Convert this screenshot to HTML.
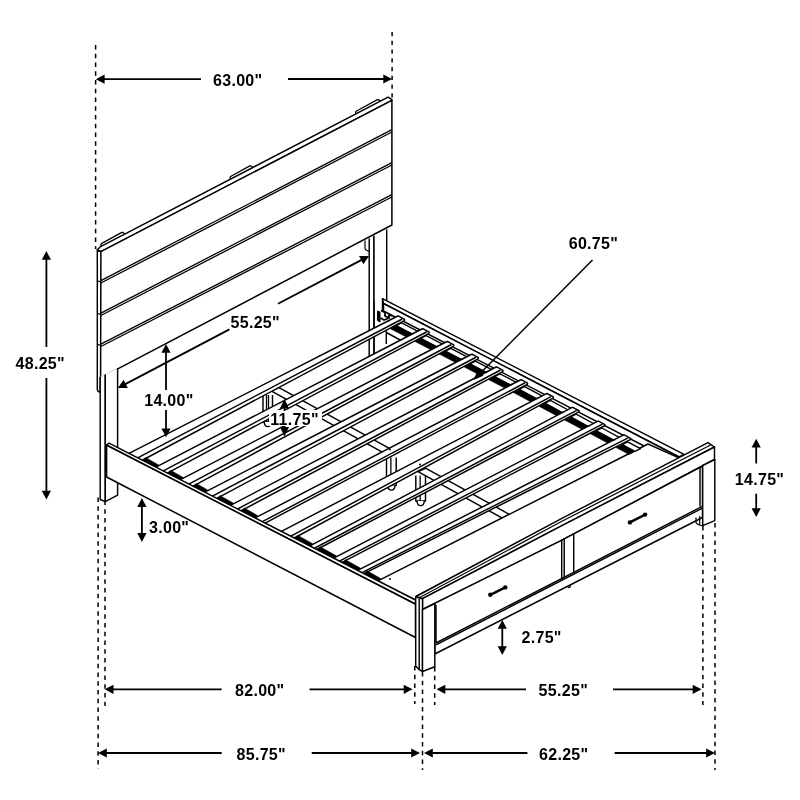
<!DOCTYPE html>
<html><head><meta charset="utf-8"><title>Bed dimensions</title>
<style>
html,body{margin:0;padding:0;background:#fff;}
body{width:800px;height:800px;overflow:hidden;font-family:"Liberation Sans",sans-serif;}
svg{display:block;font-family:"Liberation Sans",sans-serif;filter:grayscale(1);}
</style></head><body>
<svg width="800" height="800" viewBox="0 0 800 800">
<rect width="800" height="800" fill="#fff"/>
<g stroke="#000" fill="none" stroke-linejoin="round" stroke-linecap="butt">
<path d="M369.20 238.50 L369.20 358.00 L374.00 358.00 L374.00 235.80" stroke-width="1.45" fill="#fff" />
<path d="M374 235.8 L386.7 229.4 L386.7 300.5 L374 300.5 Z" fill="#fff" stroke="none"/>
<line x1="374.00" y1="235.80" x2="374.00" y2="358.00" stroke-width="1.45" />
<line x1="386.70" y1="229.40" x2="386.70" y2="300.50" stroke-width="1.45" />
<path d="M365 240.6 L365 248.5 Q365.3 250.3 369.2 251.5" stroke-width="1.2"/>
<path d="M382.50 298.70 L684.00 454.30 L679.00 457.00 L383.50 303.50 Z" stroke-width="1.45" fill="#fff" />
<path d="M383.50 303.50 L679.00 457.00 L672.00 460.50 L383.50 311.00 Z" stroke-width="1.45" fill="#fff" />
<line x1="382.50" y1="298.70" x2="382.50" y2="312.00" stroke-width="1.45" />
<line x1="386.30" y1="322.00" x2="386.30" y2="344.00" stroke-width="1.45" />
<line x1="386.30" y1="332.50" x2="402.00" y2="341.00" stroke-width="1.45" />
<path d="M377.50 311.00 L377.50 320.50 L380.00 322.00 L380.00 312.00 Z" stroke-width="1.0" fill="#000" />
<path d="M381.00 310.50 L385.00 312.50 L385.00 316.00 L389.00 318.00 L389.00 314.50 L392.00 316.00" stroke-width="1.8" fill="none" />
<path d="M380.50 318.00 L384.00 320.00 L388.00 318.50" stroke-width="1.8" fill="none" />
<path d="M263.00 395.00 L263.00 422.00 L272.50 422.00 L272.50 395.00" stroke-width="1.45" fill="#fff" />
<line x1="266.51" y1="395.00" x2="266.51" y2="422.00" stroke-width="1.305" />
<line x1="268.51" y1="395.00" x2="268.51" y2="422.00" stroke-width="1.305" />
<path d="M264.2 422 q0.3 4.6 3.55 4.6 q3.25 0 3.55 -4.6" stroke-width="1.45" fill="#fff"/>
<path d="M386.50 457.50 L386.50 485.50 L396.20 485.50 L396.20 457.50" stroke-width="1.45" fill="#fff" />
<line x1="390.87" y1="457.50" x2="390.87" y2="485.50" stroke-width="1.305" />
<path d="M387.7 485.5 q0.3 4.6 3.6499999999999995 4.6 q3.3499999999999996 0 3.6499999999999995 -4.6" stroke-width="1.45" fill="#fff"/>
<path d="M415.80 475.50 L415.80 501.00 L425.50 501.00 L425.50 475.50" stroke-width="1.45" fill="#fff" />
<line x1="420.17" y1="475.50" x2="420.17" y2="501.00" stroke-width="1.305" />
<path d="M417.0 501.0 q0.3 4.6 3.6499999999999995 4.6 q3.3499999999999996 0 3.6499999999999995 -4.6" stroke-width="1.45" fill="#fff"/>
<path d="M566.00 573.00 L566.00 583.00 L572.00 583.00 L572.00 573.00" stroke-width="1.45" fill="#fff" />
<line x1="568.70" y1="573.00" x2="568.70" y2="583.00" stroke-width="1.305" />
<path d="M567.2 583 q0.3 4.6 1.8 4.6 q1.5 0 1.8 -4.6" stroke-width="1.45" fill="#fff"/>
<path d="M279.00 387.65 L397.50 452.82 L390.00 456.30 L271.50 391.12 Z" stroke-width="1.45" fill="#fff" />
<path d="M425.50 468.23 L555.50 539.73 L548.00 543.20 L418.00 471.70 Z" stroke-width="1.45" fill="#fff" />
<circle cx="268" cy="384" r="1.1" fill="#000" stroke="none"/>
<path d="M376.50 581.58 L648.00 444.00 L680.00 458.30 L416.00 596.50 L415.50 600.00 Z" stroke-width="1.45" fill="#fff" />
<path d="M396.10 325.60 L416.27 336.06 L421.77 333.31 L401.60 322.85 Z" stroke-width="1.305" fill="#fff" />
<path d="M390.10 328.60 L396.10 325.60 L416.27 336.06 L410.27 339.06 Z" stroke-width="0.6" fill="#000" />
<path d="M127.60 454.15 L397.25 316.25 L398.25 315.95 L404.60 319.40 L404.30 320.60 L140.00 461.49 Z" stroke-width="1.45" fill="#fff" />
<line x1="135.75" y1="458.82" x2="402.20" y2="319.00" stroke-width="1.45" />
<line x1="388.25" y1="320.05" x2="388.85" y2="321.45" stroke-width="1.16" />
<path d="M145.60 457.49 L158.70 464.91 L156.30 468.61 L141.80 461.19 Z" stroke-width="0.5" fill="#000" />
<path d="M420.70 338.35 L440.87 348.81 L446.37 346.06 L426.20 335.60 Z" stroke-width="1.305" fill="#fff" />
<path d="M414.70 341.35 L420.70 338.35 L440.87 348.81 L434.87 351.81 Z" stroke-width="0.6" fill="#000" />
<path d="M154.50 467.91 L421.85 329.00 L422.85 328.70 L429.20 332.15 L428.90 333.35 L165.00 474.28 Z" stroke-width="1.45" fill="#fff" />
<line x1="161.40" y1="471.94" x2="426.80" y2="331.75" stroke-width="1.45" />
<line x1="412.85" y1="332.80" x2="413.45" y2="334.20" stroke-width="1.16" />
<path d="M170.60 470.28 L183.20 477.45 L180.80 481.15 L166.80 473.98 Z" stroke-width="0.5" fill="#000" />
<path d="M445.30 351.10 L465.47 361.56 L470.97 358.81 L450.80 348.35 Z" stroke-width="1.305" fill="#fff" />
<path d="M439.30 354.10 L445.30 351.10 L465.47 361.56 L459.47 364.56 Z" stroke-width="0.6" fill="#000" />
<path d="M179.00 480.45 L446.45 341.75 L447.45 341.45 L453.80 344.90 L453.50 346.10 L190.75 487.46 Z" stroke-width="1.45" fill="#fff" />
<line x1="187.00" y1="485.04" x2="451.40" y2="344.50" stroke-width="1.45" />
<line x1="437.45" y1="345.55" x2="438.05" y2="346.95" stroke-width="1.16" />
<path d="M196.35 483.46 L207.70 489.98 L205.30 493.68 L192.55 487.16 Z" stroke-width="0.5" fill="#000" />
<path d="M469.90 363.85 L490.07 374.31 L495.57 371.56 L475.40 361.10 Z" stroke-width="1.305" fill="#fff" />
<path d="M463.90 366.85 L469.90 363.85 L490.07 374.31 L484.07 377.31 Z" stroke-width="0.6" fill="#000" />
<path d="M203.50 492.98 L471.05 354.50 L472.05 354.20 L478.40 357.65 L478.10 358.85 L214.50 499.61 Z" stroke-width="1.45" fill="#fff" />
<line x1="210.50" y1="497.06" x2="476.00" y2="357.25" stroke-width="1.45" />
<line x1="462.05" y1="358.30" x2="462.65" y2="359.70" stroke-width="1.16" />
<path d="M220.10 495.61 L233.20 503.02 L230.80 506.72 L216.30 499.31 Z" stroke-width="0.5" fill="#000" />
<path d="M494.50 376.60 L514.67 387.06 L520.17 384.31 L500.00 373.85 Z" stroke-width="1.305" fill="#fff" />
<path d="M488.50 379.60 L494.50 376.60 L514.67 387.06 L508.67 390.06 Z" stroke-width="0.6" fill="#000" />
<path d="M229.00 506.02 L495.65 367.25 L496.65 366.95 L503.00 370.40 L502.70 371.60 L238.75 512.01 Z" stroke-width="1.45" fill="#fff" />
<line x1="235.75" y1="509.98" x2="500.60" y2="370.00" stroke-width="1.45" />
<line x1="486.65" y1="371.05" x2="487.25" y2="372.45" stroke-width="1.16" />
<path d="M244.35 508.01 L257.95 515.69 L255.55 519.39 L240.55 511.71 Z" stroke-width="0.5" fill="#000" />
<path d="M519.10 389.35 L540.22 400.67 L545.72 397.92 L524.60 386.60 Z" stroke-width="1.305" fill="#fff" />
<path d="M513.10 392.35 L519.10 389.35 L540.22 400.67 L534.22 403.67 Z" stroke-width="0.6" fill="#000" />
<path d="M253.75 518.69 L520.25 380.00 L521.25 379.70 L527.60 383.15 L527.30 384.35 L262.75 524.29 Z" stroke-width="1.45" fill="#fff" />
<line x1="260.50" y1="522.64" x2="525.20" y2="382.75" stroke-width="1.45" />
<line x1="511.25" y1="383.80" x2="511.85" y2="385.20" stroke-width="1.16" />
<path d="M544.85 403.15 L565.97 414.47 L571.47 411.72 L550.35 400.40 Z" stroke-width="1.305" fill="#fff" />
<path d="M538.85 406.15 L544.85 403.15 L565.97 414.47 L559.97 417.47 Z" stroke-width="0.6" fill="#000" />
<path d="M280.00 532.12 L546.00 393.80 L547.00 393.50 L553.35 396.95 L553.05 398.15 L292.00 539.25 Z" stroke-width="1.45" fill="#fff" />
<line x1="289.00" y1="537.22" x2="550.95" y2="396.55" stroke-width="1.45" />
<line x1="537.00" y1="397.60" x2="537.60" y2="399.00" stroke-width="1.16" />
<path d="M297.60 535.25 L312.70 543.70 L310.30 547.40 L293.80 538.95 Z" stroke-width="0.5" fill="#000" />
<path d="M570.60 416.95 L591.72 428.27 L597.22 425.52 L576.10 414.20 Z" stroke-width="1.305" fill="#fff" />
<path d="M564.60 419.95 L570.60 416.95 L591.72 428.27 L585.72 431.27 Z" stroke-width="0.6" fill="#000" />
<path d="M308.50 546.70 L571.75 407.60 L572.75 407.30 L579.10 410.75 L578.80 411.95 L314.50 550.76 Z" stroke-width="1.45" fill="#fff" />
<line x1="312.50" y1="549.24" x2="576.70" y2="410.35" stroke-width="1.45" />
<line x1="562.75" y1="411.40" x2="563.35" y2="412.80" stroke-width="1.16" />
<path d="M320.10 546.76 L336.45 555.85 L334.05 559.55 L316.30 550.46 Z" stroke-width="0.5" fill="#000" />
<path d="M596.35 430.75 L617.47 442.07 L622.97 439.32 L601.85 428.00 Z" stroke-width="1.305" fill="#fff" />
<path d="M590.35 433.75 L596.35 430.75 L617.47 442.07 L611.47 445.07 Z" stroke-width="0.6" fill="#000" />
<path d="M332.25 558.85 L597.50 421.40 L598.50 421.10 L604.85 424.55 L604.55 425.75 L339.75 563.68 Z" stroke-width="1.45" fill="#fff" />
<line x1="337.50" y1="562.03" x2="602.45" y2="424.15" stroke-width="1.45" />
<line x1="588.50" y1="425.20" x2="589.10" y2="426.60" stroke-width="1.16" />
<path d="M345.35 559.68 L360.45 568.12 L358.05 571.82 L341.55 563.38 Z" stroke-width="0.5" fill="#000" />
<path d="M622.10 444.55 L634.98 451.45 L640.48 448.70 L627.60 441.80 Z" stroke-width="1.305" fill="#fff" />
<path d="M616.10 447.55 L622.10 444.55 L634.98 451.45 L628.98 454.45 Z" stroke-width="0.6" fill="#000" />
<path d="M356.25 571.12 L623.25 435.20 L624.25 434.90 L630.60 438.35 L630.30 439.55 L361.50 574.81 Z" stroke-width="1.45" fill="#fff" />
<line x1="360.00" y1="573.54" x2="628.20" y2="437.95" stroke-width="1.45" />
<line x1="614.25" y1="439.00" x2="614.85" y2="440.40" stroke-width="1.16" />
<path d="M367.10 570.81 L380.70 578.48 L378.30 582.18 L363.30 574.51 Z" stroke-width="0.5" fill="#000" />
<circle cx="390" cy="449.4" r="1.0" fill="#000" stroke="none"/>
<circle cx="420" cy="464.5" r="1.0" fill="#000" stroke="none"/>
<circle cx="390" cy="579" r="0.9" fill="#000" stroke="none"/>
<path d="M101.40 247.00 L100.80 244.50 L101.80 243.40 L121.80 232.38 L122.80 232.46 L125.00 234.12" stroke-width="1.3" fill="#fff" />
<path d="M230.60 179.86 L230.00 177.36 L231.00 176.26 L249.80 165.87 L250.80 165.95 L253.00 167.61" stroke-width="1.3" fill="#fff" />
<path d="M356.20 114.59 L355.60 112.09 L356.60 110.99 L377.40 99.56 L378.40 99.64 L380.60 101.30" stroke-width="1.3" fill="#fff" />
<path d="M97.30 249.80 L100.60 246.60 L388.10 97.20 L391.90 99.60 L391.90 100.40 L100.90 251.60 Z" stroke-width="1.45" fill="#fff" />
<path d="M100.90 251.60 L97.30 249.80 L97.30 389.50 L98.00 391.30 L100.20 392.30 L100.20 377.00" stroke-width="1.45" fill="#fff" />
<path d="M100.90 251.60 L391.90 100.40 L391.90 225.00 L100.60 377.80 Z" stroke-width="1.5" fill="#fff" />
<line x1="100.90" y1="280.60" x2="391.90" y2="129.60" stroke-width="1.3" />
<line x1="100.90" y1="283.00" x2="391.90" y2="132.00" stroke-width="1.3" />
<line x1="97.30" y1="280.80" x2="100.90" y2="282.10" stroke-width="1.2" />
<line x1="100.90" y1="313.10" x2="391.90" y2="162.60" stroke-width="1.3" />
<line x1="100.90" y1="315.50" x2="391.90" y2="165.00" stroke-width="1.3" />
<line x1="97.30" y1="313.30" x2="100.90" y2="314.60" stroke-width="1.2" />
<line x1="100.90" y1="344.10" x2="391.90" y2="194.60" stroke-width="1.3" />
<line x1="100.90" y1="346.50" x2="391.90" y2="197.00" stroke-width="1.3" />
<line x1="97.30" y1="344.30" x2="100.90" y2="345.60" stroke-width="1.2" />
<path d="M100.20 377.00 L100.20 499.50 L105.30 501.70 L105.30 374.60" stroke-width="1.45" fill="#fff" />
<path d="M105.30 374.60 L105.30 501.70 L117.60 495.20 L117.60 368.20" stroke-width="1.45" fill="#fff" />
<path d="M106.60 445.00 L415.50 604.00 L415.50 637.50 L106.60 477.00 Z" stroke-width="1.5" fill="#fff" />
<path d="M106.60 445.00 L109.00 443.20 L415.50 600.00 L415.50 604.00 Z" stroke-width="1.45" fill="#fff" />
<path d="M416.00 596.50 L560.00 519.30 L708.00 442.60 L714.50 447.00 L560.00 526.60 L422.50 598.70 Z" stroke-width="1.45" fill="#fff" />
<path d="M419.20 597.80 L560.00 522.30 L711.00 444.80" stroke-width="1.2325" fill="none" />
<path d="M422.50 598.70 L560.00 526.60 L714.50 447.00 L714.50 459.50 L560.00 541.20 L422.50 609.50 Z" stroke-width="1.45" fill="#fff" />
<path d="M434.80 603.30 L560.00 541.20 L702.50 466.00 L702.50 517.50 L434.80 654.00 Z" stroke-width="1.45" fill="#fff" />
<line x1="436.00" y1="643.00" x2="702.50" y2="506.30" stroke-width="1.45" />
<line x1="436.00" y1="644.80" x2="702.50" y2="508.20" stroke-width="1.45" />
<line x1="436.00" y1="605.00" x2="436.00" y2="643.00" stroke-width="1.45" />
<path d="M561.70 539.50 L561.70 578.50" stroke-width="1.45" fill="none" />
<path d="M564.20 538.20 L564.20 577.20" stroke-width="1.45" fill="none" />
<path d="M573.70 533.30 L573.70 572.50" stroke-width="1.45" fill="none" />
<line x1="700.00" y1="467.00" x2="700.00" y2="506.50" stroke-width="1.45" />
<path d="M490.3 594.8 L505.3 587.4" stroke-width="2.4" stroke-linecap="round"/>
<circle cx="490.3" cy="594.8" r="2.2" fill="#000" stroke="none"/><circle cx="505.3" cy="587.4" r="2.2" fill="#000" stroke="none"/>
<path d="M629.9 522.4 L645.1 514.6" stroke-width="2.4" stroke-linecap="round"/>
<circle cx="629.9" cy="522.4" r="2.2" fill="#000" stroke="none"/><circle cx="645.1" cy="514.6" r="2.2" fill="#000" stroke="none"/>
<path d="M415.70 597.00 L415.70 666.00 L419.20 669.70 L422.50 671.50 L422.50 598.70 Z" stroke-width="1.45" fill="#fff" />
<line x1="419.20" y1="598.50" x2="419.20" y2="669.70" stroke-width="1.45" />
<path d="M422.50 609.50 L422.50 671.50 L434.80 666.70 L434.80 603.50 Z" stroke-width="1.45" fill="#fff" />
<path d="M702.70 465.50 L702.70 525.70 L714.80 520.60 L714.80 459.50 Z" stroke-width="1.45" fill="#fff" />
<path d="M696 517.5 L696 522.5 Q697 525 702.7 525.7 M699.7 516 L699.7 524.5" stroke-width="1.2"/>
</g>
<g stroke="#000" fill="none">
<line x1="95.6" y1="45" x2="95.6" y2="249" stroke-width="1.5" stroke-dasharray="4.4 4.35"/>
<line x1="392.1" y1="31.9" x2="392.1" y2="97.5" stroke-width="1.5" stroke-dasharray="4.4 4.35"/>
<line x1="100.00" y1="79.20" x2="201.00" y2="79.20" stroke-width="1.8" />
<path d="M95.80 79.20 L104.60 74.60 L104.60 83.80 Z" fill="#000" stroke="none"/>
<line x1="288.00" y1="79.00" x2="388.00" y2="79.00" stroke-width="1.8" />
<path d="M392.10 79.00 L383.30 83.60 L383.30 74.40 Z" fill="#000" stroke="none"/>
<text x="213" y="86" font-size="16" font-weight="700" letter-spacing="0.3" stroke="none" fill="#000">63.00"</text>
<line x1="46.40" y1="256.00" x2="46.40" y2="347.00" stroke-width="1.8" />
<path d="M46.40 251.00 L51.00 259.80 L41.80 259.80 Z" fill="#000" stroke="none"/>
<line x1="46.40" y1="378.00" x2="46.40" y2="495.00" stroke-width="1.8" />
<path d="M46.40 499.50 L41.80 490.70 L51.00 490.70 Z" fill="#000" stroke="none"/>
<text x="15.5" y="368.5" font-size="16" font-weight="700" letter-spacing="0.3" stroke="none" fill="#000">48.25"</text>
<line x1="166.00" y1="350.00" x2="166.00" y2="390.00" stroke-width="1.8" />
<path d="M166.00 344.00 L170.60 352.80 L161.40 352.80 Z" fill="#000" stroke="none"/>
<line x1="166.00" y1="410.00" x2="166.00" y2="432.00" stroke-width="1.8" />
<path d="M166.00 437.30 L161.40 428.50 L170.60 428.50 Z" fill="#000" stroke="none"/>
<text x="144.2" y="406" font-size="16" font-weight="700" letter-spacing="0.3" stroke="none" fill="#000">14.00"</text>
<rect x="269" y="410" width="53" height="16" fill="#fff" stroke="none"/>
<line x1="284.50" y1="404.00" x2="284.50" y2="411.00" stroke-width="1.8" />
<path d="M284.50 399.00 L289.10 408.50 L279.90 408.50 Z" fill="#000" stroke="none"/>
<line x1="284.50" y1="426.00" x2="284.50" y2="430.00" stroke-width="1.8" />
<path d="M284.50 436.50 L279.90 427.00 L289.10 427.00 Z" fill="#000" stroke="none"/>
<text x="270.3" y="424.5" font-size="16" font-weight="700" letter-spacing="0.3" stroke="none" fill="#000">11.75"</text>
<line x1="141.90" y1="503.00" x2="141.90" y2="537.00" stroke-width="1.8" />
<path d="M141.90 498.10 L146.50 506.90 L137.30 506.90 Z" fill="#000" stroke="none"/>
<path d="M141.90 541.90 L137.30 533.10 L146.50 533.10 Z" fill="#000" stroke="none"/>
<text x="149" y="532.5" font-size="16" font-weight="700" letter-spacing="0.3" stroke="none" fill="#000">3.00"</text>
<line x1="502.30" y1="625.00" x2="502.30" y2="650.00" stroke-width="1.8" />
<path d="M502.30 620.00 L506.90 628.80 L497.70 628.80 Z" fill="#000" stroke="none"/>
<path d="M502.30 655.00 L497.70 646.20 L506.90 646.20 Z" fill="#000" stroke="none"/>
<text x="521.5" y="643" font-size="16" font-weight="700" letter-spacing="0.3" stroke="none" fill="#000">2.75"</text>
<line x1="756.20" y1="444.00" x2="756.20" y2="463.50" stroke-width="1.8" />
<path d="M756.20 438.80 L760.80 447.60 L751.60 447.60 Z" fill="#000" stroke="none"/>
<line x1="756.20" y1="493.70" x2="756.20" y2="512.00" stroke-width="1.8" />
<path d="M756.20 517.00 L751.60 508.20 L760.80 508.20 Z" fill="#000" stroke="none"/>
<text x="734.8" y="484.6" font-size="16" font-weight="700" letter-spacing="0.3" stroke="none" fill="#000">14.75"</text>
<line x1="105" y1="500.6" x2="105" y2="706" stroke-width="1.5" stroke-dasharray="4.4 4.35"/>
<line x1="98.1" y1="497.5" x2="98.1" y2="769" stroke-width="1.5" stroke-dasharray="4.4 4.35"/>
<line x1="414.8" y1="666" x2="414.8" y2="704" stroke-width="1.5" stroke-dasharray="4.4 4.35"/>
<line x1="422.5" y1="672" x2="422.5" y2="770" stroke-width="1.5" stroke-dasharray="4.4 4.35"/>
<line x1="434.7" y1="667" x2="434.7" y2="705" stroke-width="1.5" stroke-dasharray="4.4 4.35"/>
<line x1="702.9" y1="526" x2="702.9" y2="705" stroke-width="1.5" stroke-dasharray="4.4 4.35"/>
<line x1="715" y1="523" x2="715" y2="770" stroke-width="1.5" stroke-dasharray="4.4 4.35"/>
<line x1="109.00" y1="689.30" x2="221.70" y2="689.30" stroke-width="1.8" />
<path d="M104.70 689.30 L113.50 684.70 L113.50 693.90 Z" fill="#000" stroke="none"/>
<line x1="309.50" y1="689.30" x2="408.00" y2="689.30" stroke-width="1.8" />
<path d="M412.50 689.30 L403.70 693.90 L403.70 684.70 Z" fill="#000" stroke="none"/>
<text x="235" y="696" font-size="16" font-weight="700" letter-spacing="0.3" stroke="none" fill="#000">82.00"</text>
<line x1="441.00" y1="689.30" x2="526.00" y2="689.30" stroke-width="1.8" />
<path d="M436.50 689.30 L445.30 684.70 L445.30 693.90 Z" fill="#000" stroke="none"/>
<line x1="613.00" y1="689.30" x2="697.00" y2="689.30" stroke-width="1.8" />
<path d="M701.50 689.30 L692.70 693.90 L692.70 684.70 Z" fill="#000" stroke="none"/>
<text x="538.6" y="696" font-size="16" font-weight="700" letter-spacing="0.3" stroke="none" fill="#000">55.25"</text>
<line x1="102.00" y1="753.00" x2="221.70" y2="753.00" stroke-width="1.8" />
<path d="M98.00 753.00 L106.80 748.40 L106.80 757.60 Z" fill="#000" stroke="none"/>
<line x1="311.70" y1="753.00" x2="415.00" y2="753.00" stroke-width="1.8" />
<path d="M420.00 753.00 L411.20 757.60 L411.20 748.40 Z" fill="#000" stroke="none"/>
<text x="236.5" y="760" font-size="16" font-weight="700" letter-spacing="0.3" stroke="none" fill="#000">85.75"</text>
<line x1="428.00" y1="753.00" x2="527.40" y2="753.00" stroke-width="1.8" />
<path d="M424.00 753.00 L432.80 748.40 L432.80 757.60 Z" fill="#000" stroke="none"/>
<line x1="614.70" y1="753.00" x2="710.00" y2="753.00" stroke-width="1.8" />
<path d="M715.00 753.00 L706.20 757.60 L706.20 748.40 Z" fill="#000" stroke="none"/>
<text x="539" y="760" font-size="16" font-weight="700" letter-spacing="0.3" stroke="none" fill="#000">62.25"</text>
<text x="568.7" y="248.7" font-size="16" font-weight="700" letter-spacing="0.3" stroke="none" fill="#000">60.75"</text>
<line x1="592.50" y1="260.00" x2="478.00" y2="375.50" stroke-width="1.5" />
<path d="M473.50 380.00 L477.70 370.08 L483.38 375.72 Z" fill="#000" stroke="none"/>
<line x1="122.00" y1="385.90" x2="229.40" y2="329.40" stroke-width="1.8" />
<path d="M117.90 388.00 L123.55 379.83 L127.83 387.98 Z" fill="#000" stroke="none"/>
<line x1="278.00" y1="303.80" x2="365.00" y2="258.10" stroke-width="1.8" />
<path d="M369.00 256.00 L363.35 264.17 L359.07 256.02 Z" fill="#000" stroke="none"/>
<text x="230.5" y="328" font-size="16" font-weight="700" letter-spacing="0.3" stroke="none" fill="#000">55.25"</text>
</g>
</svg>
</body></html>
